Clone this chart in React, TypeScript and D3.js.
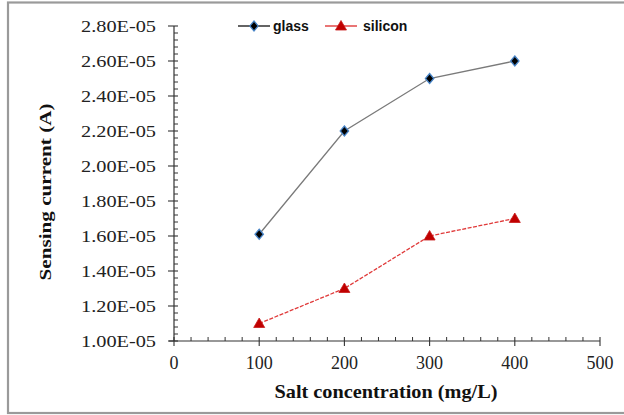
import React from "react";
import * as d3 from "d3";

const concentrations = [100, 200, 300, 400];
const glassValues = [1.61e-5, 2.2e-5, 2.5e-5, 2.6e-5];
const siliconValues = [1.1e-5, 1.3e-5, 1.6e-5, 1.7e-5];
const xTicks = [0, 100, 200, 300, 400, 500];
const yTicks = [1.0e-5, 1.2e-5, 1.4e-5, 1.6e-5, 1.8e-5, 2.0e-5, 2.2e-5, 2.4e-5, 2.6e-5, 2.8e-5];
const seriesNames = ["glass", "silicon"];

const W = 624;
const H = 415;
const serif = "'Liberation Serif', 'Times New Roman', serif";
const sans = "'Liberation Sans', Arial, sans-serif";

function fmtE(d: number): string {
  const [m, e] = d.toExponential(2).split("e");
  const sign = e.startsWith("-") ? "-" : "+";
  const n = Math.abs(parseInt(e, 10));
  return `${m}E${sign}${n < 10 ? "0" + n : n}`;
}

const diamond = "M0,-5L4.2,0L0,5L-4.2,0Z";
const triangle = "M0,-5.5L5.5,4L-5.5,4Z";

export default function App() {
  const x = d3.scaleLinear().domain([0, 500]).range([174, 600]);
  const y = d3.scaleLinear().domain([1.0e-5, 2.8e-5]).range([341, 26]);

  const xMinor = d3.range(0, 500, 20).filter((v) => v % 100 !== 0);
  const yMinor = d3.range(0, 45).map((i) => 1.0e-5 + i * 0.04e-5).filter((v, i) => i % 5 !== 0);

  const line = d3
    .line<number>()
    .x((_, i) => x(concentrations[i]))
    .y((d) => y(d));

  return (
    <svg
      width={W}
      height={H}
      style={{ position: "absolute", left: 0, top: 0, background: "#fff" }}
    >
      <rect x={8} y={2.5} width={700} height={410.5} fill="#fff" stroke="#9a9a9a" strokeWidth={2.2} />

      {/* axes */}
      <line x1={x(0)} x2={x(0)} y1={y(2.8e-5)} y2={y(1.0e-5)} stroke="#333" strokeWidth={1.2} />
      <line x1={x(0) - 5} x2={x(500)} y1={y(1.0e-5)} y2={y(1.0e-5)} stroke="#333" strokeWidth={1.2} />

      {yTicks.map((t) => (
        <g key={"yt" + t}>
          <line x1={x(0) - 6} x2={x(0) + 4} y1={y(t)} y2={y(t)} stroke="#333" strokeWidth={1.1} />
          <text
            x={156}
            y={y(t)}
            dy="0.36em"
            textAnchor="end"
            fontFamily={serif}
            fontSize={17}
            textLength={75}
            lengthAdjust="spacingAndGlyphs"
            fill="#222"
          >
            {fmtE(t)}
          </text>
        </g>
      ))}
      {yMinor.map((t) => (
        <line key={"ym" + t} x1={x(0)} x2={x(0) + 4} y1={y(t)} y2={y(t)} stroke="#333" strokeWidth={1} />
      ))}

      {xTicks.map((t) => (
        <g key={"xt" + t}>
          <line x1={x(t)} x2={x(t)} y1={y(1.0e-5) - 4} y2={y(1.0e-5) + 5} stroke="#333" strokeWidth={1.1} />
          <text x={x(t)} y={369} textAnchor="middle" fontFamily={serif} fontSize={18} fill="#222">
            {t}
          </text>
        </g>
      ))}
      {xMinor.map((t) => (
        <line key={"xm" + t} x1={x(t)} x2={x(t)} y1={y(1.0e-5) - 4} y2={y(1.0e-5)} stroke="#333" strokeWidth={1} />
      ))}

      {/* axis titles */}
      <text
        x={386}
        y={398}
        textAnchor="middle"
        fontFamily={serif}
        fontWeight="bold"
        fontSize={19}
        textLength={223}
        lengthAdjust="spacingAndGlyphs"
        fill="#111"
      >
        Salt concentration (mg/L)
      </text>
      <text
        transform="translate(51,192) rotate(-90)"
        textAnchor="middle"
        fontFamily={serif}
        fontWeight="bold"
        fontSize={17}
        textLength={177}
        lengthAdjust="spacingAndGlyphs"
        fill="#111"
      >
        Sensing current (A)
      </text>

      {/* series lines */}
      <path d={line(glassValues) || ""} fill="none" stroke="#7a7a7a" strokeWidth={1.3} />
      <path d={line(siliconValues) || ""} fill="none" stroke="#e03a3a" strokeWidth={1.3} strokeDasharray="4,1.5" />

      {glassValues.map((v, i) => (
        <path
          key={"g" + i}
          d={diamond}
          transform={`translate(${x(concentrations[i])},${y(v)})`}
          fill="#000"
          stroke="#4a86c8"
          strokeWidth={1.3}
        />
      ))}
      {siliconValues.map((v, i) => (
        <path
          key={"s" + i}
          d={triangle}
          transform={`translate(${x(concentrations[i])},${y(v)})`}
          fill="#c00000"
          stroke="#c81a1a"
          strokeWidth={0.8}
        />
      ))}

      {/* legend */}
      <g>
        <line x1={238} x2={270} y1={26} y2={26} stroke="#222" strokeWidth={1.4} />
        <path d={diamond} transform="translate(254,26)" fill="#000" stroke="#4a86c8" strokeWidth={1.2} />
        <text x={273} y={31} fontFamily={sans} fontWeight="bold" fontSize={14} fill="#111">
          {seriesNames[0]}
        </text>
        <line x1={325} x2={357} y1={26} y2={26} stroke="#e03a3a" strokeWidth={1.4} />
        <path d={triangle} transform="translate(341,26)" fill="#c00000" stroke="#c81a1a" strokeWidth={0.8} />
        <text x={363} y={31} fontFamily={sans} fontWeight="bold" fontSize={14} fill="#111">
          {seriesNames[1]}
        </text>
      </g>
    </svg>
  );
}
